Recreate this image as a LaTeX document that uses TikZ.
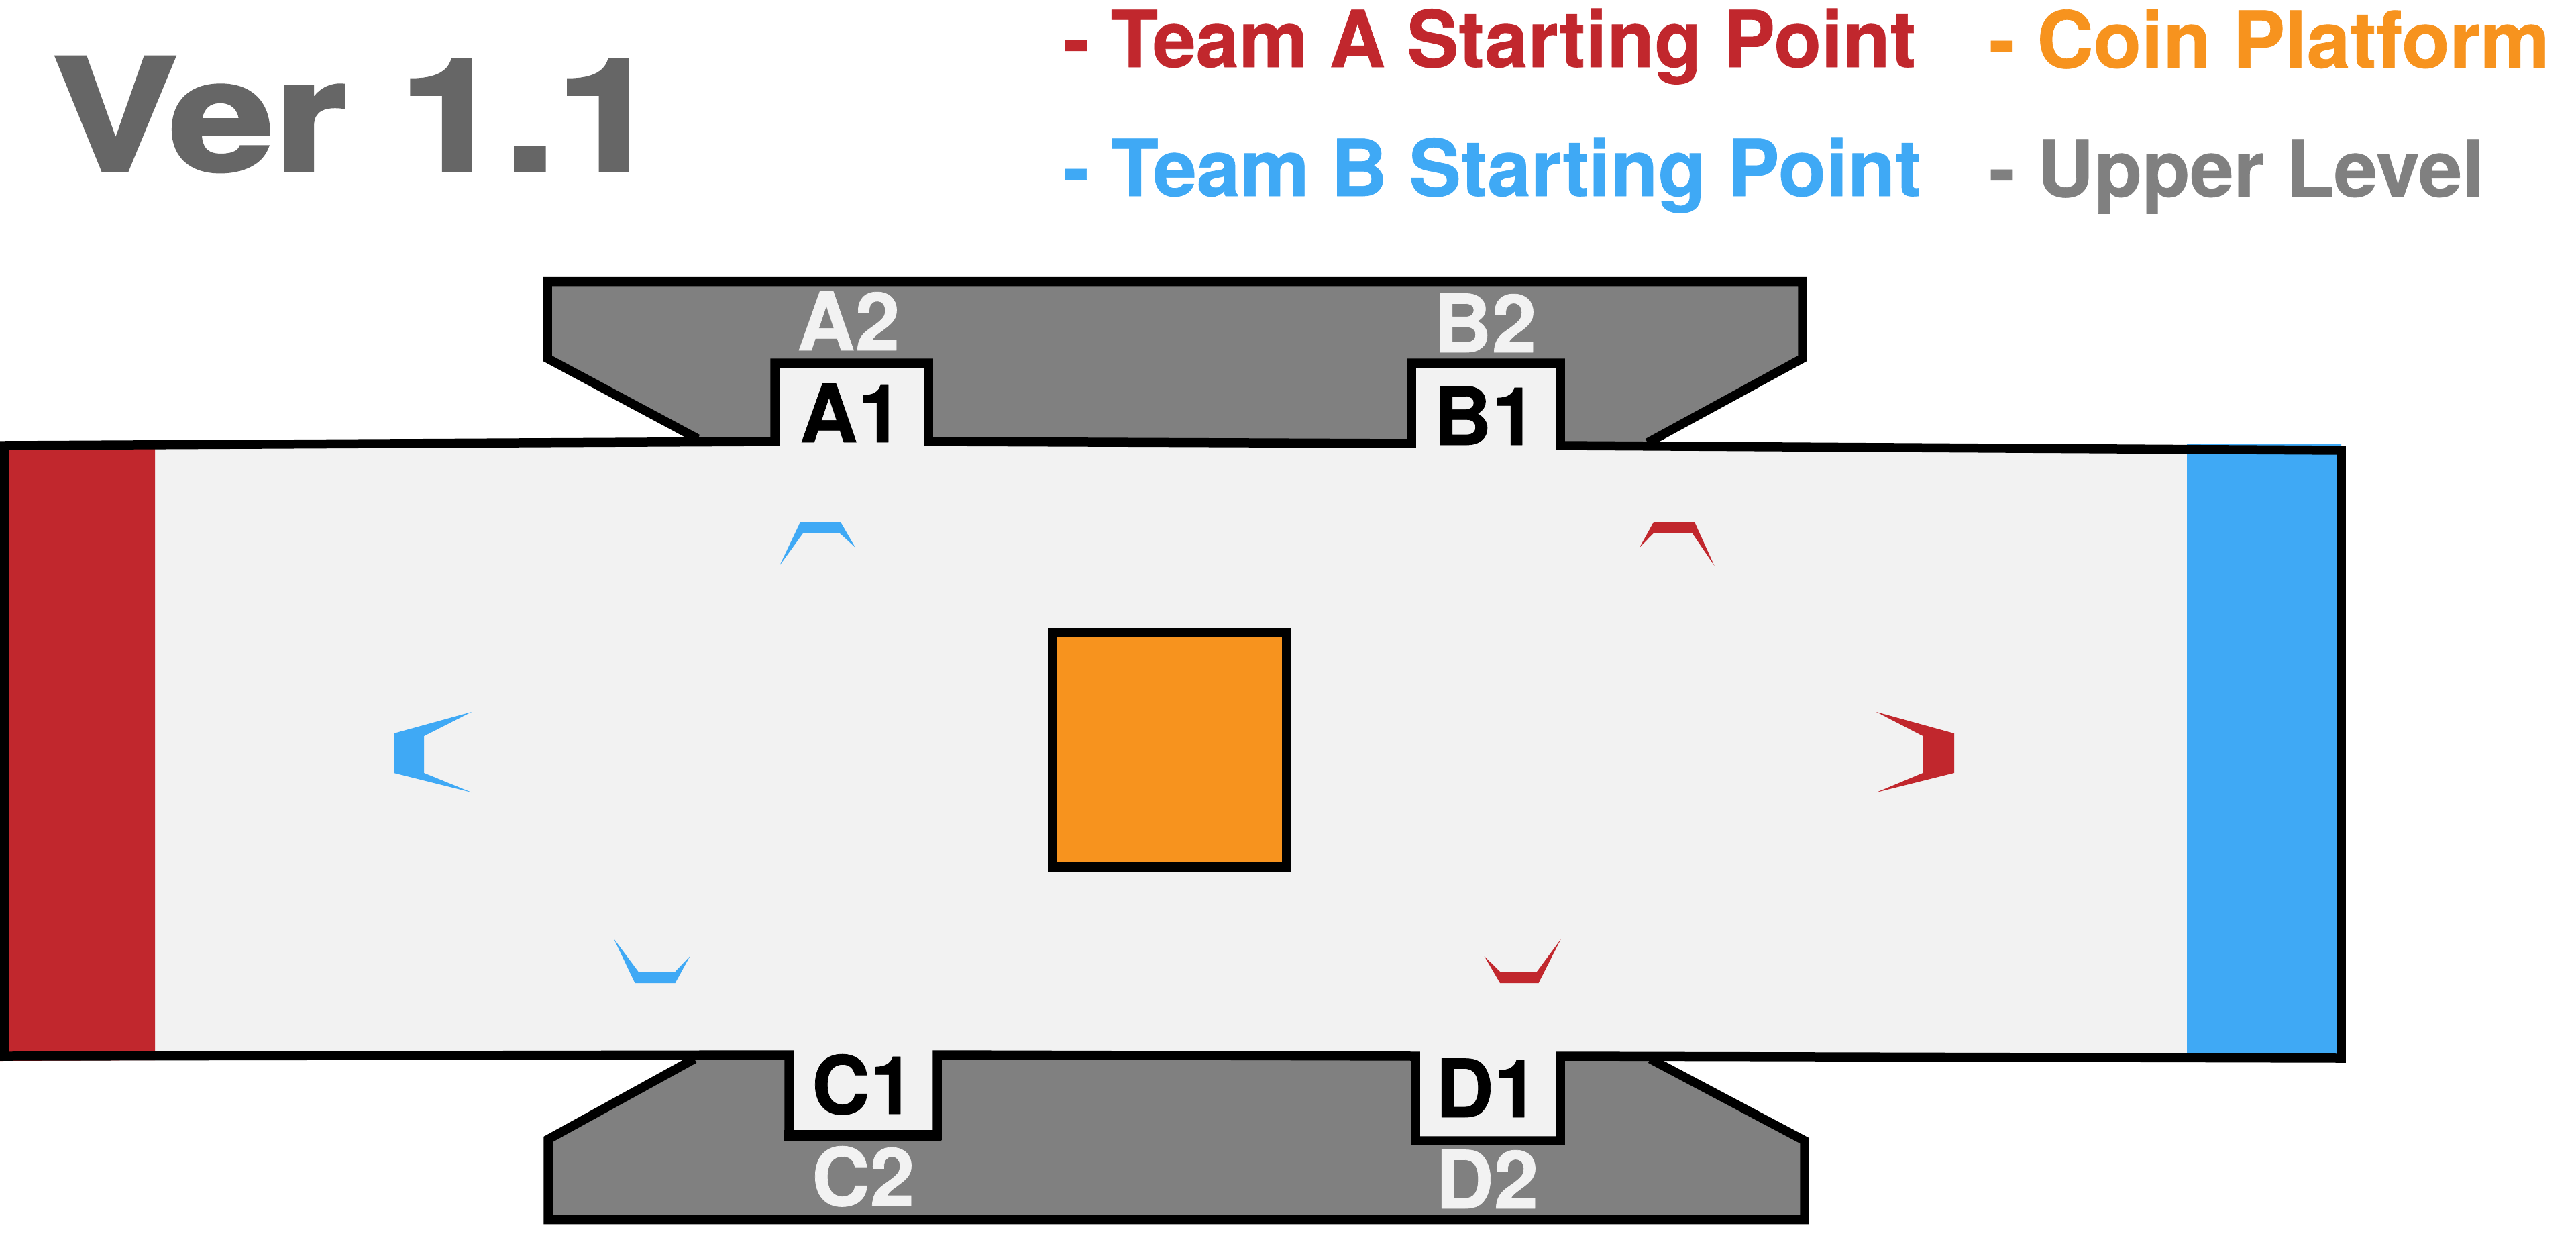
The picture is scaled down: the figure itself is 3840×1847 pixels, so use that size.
\documentclass[tikz,border=0pt]{standalone}
\usepackage{fontspec}
\setmainfont{TeX Gyre Heros}[BoldFeatures={FakeBold=0.6}]
\newfontfamily\titlefont{TeX Gyre Heros}[BoldFeatures={FakeBold=2}]
\definecolor{teamA}{HTML}{C1272D}
\definecolor{teamB}{HTML}{3FA9F5}
\definecolor{coin}{HTML}{F7931E}
\definecolor{upper}{HTML}{808080}
\definecolor{floorc}{HTML}{F2F2F2}
\definecolor{ver}{HTML}{666666}
\tikzset{
  wall/.style={draw=black,line width=13.5pt,miter limit=10},
  lbl/.style={anchor=base west,inner sep=0pt,outer sep=0pt,font=\fontsize{117}{117}\selectfont\bfseries},
  doorlbl/.style={anchor=base west,inner sep=0pt,outer sep=0pt,font=\fontsize{120}{120}\selectfont\bfseries},
  marker/.style={fill=#1,draw=none}
}
\begin{document}
\begin{tikzpicture}[x=1pt,y=-1pt]
\useasboundingbox (0,0) rectangle (3840,1847);
\fill[white] (0,0) rectangle (3840,1847);
% upper level
\fill[upper] (816,419.5) -- (2687,419.5) -- (2687,534) -- (2462,660) -- (2326,664) -- (1384,658) -- (1036,660) -- (816,534) -- cycle;
\draw[wall] (1040,654) -- (816,534) -- (816,419.5) -- (2687,419.5) -- (2687,534) -- (2456,660);
\fill[upper] (817,1698) -- (1035,1575) -- (2460,1575) -- (2690,1700) -- (2690,1817.5) -- (817,1817.5) -- cycle;
\draw[wall] (1035,1578) -- (817,1698) -- (817,1817.5) -- (2690,1817.5) -- (2690,1700) -- (2460,1578);
% floor
\fill[floorc] (6,664) -- (1155,658) -- (1155,541) -- (1384,541) -- (1384,658) -- (2104,661) -- (2104,541) -- (2326,541) -- (2326,664) -- (3490,671)
  -- (3490,1577) -- (2326,1574) -- (2326,1700) -- (2110,1700) -- (2110,1574) -- (1397,1572) -- (1397,1692.5) -- (1176,1692.5) -- (1176,1572) -- (6,1574) -- cycle;
% team strips
\fill[teamA] (0,665) -- (231,664) -- (231,1580) -- (0,1581) -- cycle;
\fill[teamB] (3260,661) -- (3490,661) -- (3490,1580) -- (3260,1578) -- cycle;
% walls of the floor
\draw[wall] (1155,658) -- (1155,541) -- (1384,541) -- (1384,658) -- (2104,661) -- (2104,541) -- (2326,541) -- (2326,664) -- (3490,671)
  -- (3490,1577) -- (2326,1574) -- (2326,1700) -- (2110,1700) -- (2110,1574) -- (1397,1572) -- (1397,1692.5) -- (1176,1692.5) -- (1176,1572) -- (6,1574) -- (6,664) -- cycle;
\draw[line width=17pt] (1169,1692.5) -- (1403,1692.5);
% coin platform
\fill[coin] (1568.5,943) rectangle (1918,1292);
\draw[wall] (1568.5,943) rectangle (1918,1292);
% markers team B
\fill[marker=teamB] (703,1061) -- (587,1093) -- (587,1152) -- (703,1181) -- (632,1152) -- (632,1097) -- cycle;
\fill[marker=teamB] (1162,843) -- (1193,778) -- (1253,778) -- (1275,816) -- (1251,794) -- (1197.5,794) -- cycle;
\fill[marker=teamB] (915,1399) -- (946.5,1465) -- (1006.5,1465) -- (1028.5,1425) -- (1006.5,1448) -- (951.5,1448) -- cycle;
% markers team A
\fill[marker=teamA] (2797,1061) -- (2913,1093) -- (2913,1152) -- (2797,1181) -- (2866.5,1152) -- (2866.5,1097) -- cycle;
\fill[marker=teamA] (2555.5,843) -- (2526,778) -- (2465,778) -- (2444,816) -- (2465,794.5) -- (2522.5,794.5) -- cycle;
\fill[marker=teamA] (2326.5,1400) -- (2293.5,1465) -- (2236,1465) -- (2212.6,1425) -- (2236,1448) -- (2291,1448) -- cycle;
% title and legend
\node[lbl,text=ver,font=\titlefont\fontsize{232}{232}\selectfont\bfseries] (title) at (78,254) {\scalebox{1.208}[1]{Ver 1.1}};
\node[lbl,text=teamA] (legA) at (1585,100) {\scalebox{0.988}[1]{- Team A Starting Point}};
\node[lbl,text=teamB] (legB) at (1585,292) {\scalebox{0.994}[1]{- Team B Starting Point}};
\node[lbl,text=coin] (legC) at (2965,101) {\scalebox{0.998}[1]{- Coin Platform}};
\node[lbl,text=upper] (legU) at (2965,293) {- Upper Level};
% door labels
\node[doorlbl,text=floorc] (a2) at (1188,522) {A2};
\node[doorlbl,text=black] (a1) at (1192,659) {A1};
\node[doorlbl,text=floorc] (b2) at (2137,525) {B2};
\node[doorlbl,text=black] (b1) at (2137,663) {B1};
\node[doorlbl,text=black] (c1) at (1210,1660) {C1};
\node[doorlbl,text=floorc] (c2) at (1210,1797) {C2};
\node[doorlbl,text=black] (d1) at (2140,1665) {D1};
\node[doorlbl,text=floorc] (d2) at (2140,1801) {D2};
\end{tikzpicture}
\end{document}
